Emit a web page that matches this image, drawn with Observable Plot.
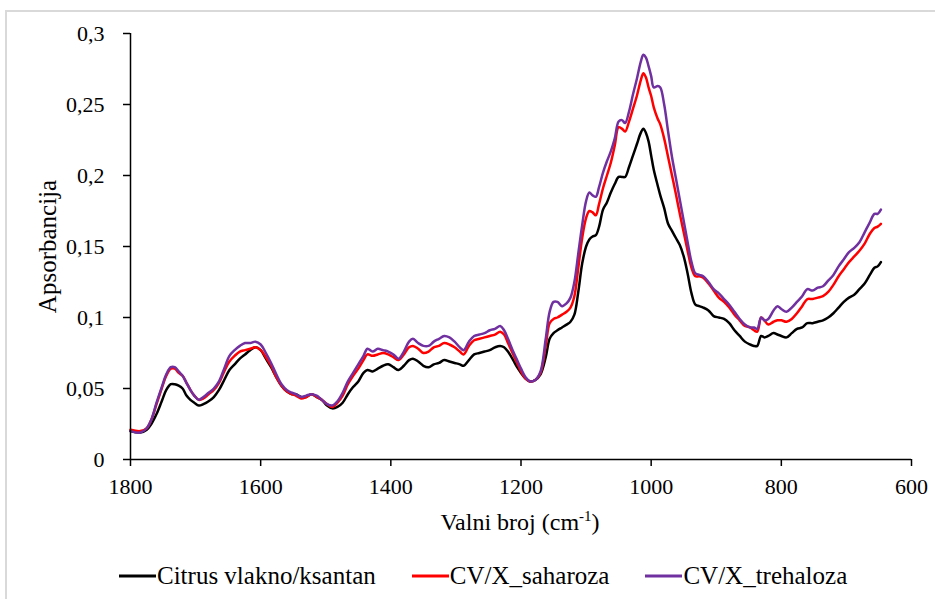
<!DOCTYPE html>
<html>
<head>
<meta charset="utf-8">
<script src="https://cdn.jsdelivr.net/npm/d3@7"></script>
<script src="https://cdn.jsdelivr.net/npm/@observablehq/plot@0.6"></script>
</head>
<body style="margin:0;padding:0;background:#fff">
<div id="wrap" style="position:relative;width:935px;height:599px;overflow:hidden;font-family:'Liberation Serif','Times New Roman',serif">
  <div id="frame" style="position:absolute;left:5px;top:10px;width:960px;height:620px;border-top:2px solid #d9d9d9;border-left:2px solid #d9d9d9;pointer-events:none"></div>
  <div id="chart"></div>
  <div id="legend" style="position:relative;height:62px;display:flex;align-items:center;gap:36px;padding-left:119px;font-size:25px;color:#000;font-family:'Liberation Serif','Times New Roman',serif"></div>
</div>
<script>
// FTIR spectra: wavenumber (cm-1) and absorbance of the three samples
const wavenumber = [1800,1785,1775,1768,1760,1752,1745,1738,1732,1726,1720,1714,1708,1702,1695,1688,1680,1672,1664,1656,1648,1640,1632,1624,1616,1608,1600,1592,1584,1576,1568,1560,1552,1546,1538,1530,1522,1514,1506,1498,1490,1482,1474,1466,1458,1450,1442,1436,1428,1420,1412,1404,1396,1388,1380,1372,1366,1358,1350,1342,1334,1326,1318,1310,1302,1294,1288,1280,1272,1264,1256,1248,1240,1232,1226,1220,1212,1206,1200,1193,1186,1178,1170,1162,1156,1150,1144,1137,1130,1124,1118,1112,1106,1100,1095,1090,1085,1080,1074,1068,1062,1056,1050,1045,1040,1034,1028,1022,1016,1012,1008,1004,1000,996,990,986,980,974,968,962,956,950,944,938,932,926,920,912,904,896,888,880,872,864,856,848,842,837,831,826,820,812,806,800,792,784,776,768,760,752,744,736,728,720,712,704,696,688,680,672,664,657,652,647];

const citrus = [0.020,0.019,0.021,0.025,0.032,0.041,0.049,0.053,0.053,0.052,0.050,0.045,0.042,0.040,0.038,0.039,0.041,0.044,0.049,0.056,0.063,0.067,0.071,0.074,0.077,0.079,0.077,0.071,0.065,0.058,0.052,0.048,0.046,0.046,0.044,0.044,0.046,0.044,0.042,0.038,0.036,0.037,0.040,0.046,0.051,0.055,0.061,0.063,0.062,0.064,0.066,0.067,0.065,0.063,0.066,0.070,0.071,0.069,0.066,0.065,0.067,0.068,0.070,0.069,0.068,0.067,0.066,0.070,0.074,0.075,0.076,0.077,0.079,0.080,0.079,0.076,0.070,0.065,0.061,0.057,0.055,0.056,0.060,0.072,0.085,0.089,0.091,0.093,0.095,0.097,0.102,0.118,0.138,0.150,0.155,0.157,0.158,0.164,0.176,0.181,0.188,0.194,0.199,0.199,0.199,0.206,0.214,0.222,0.230,0.233,0.230,0.224,0.214,0.204,0.193,0.186,0.177,0.166,0.161,0.156,0.151,0.143,0.131,0.117,0.109,0.108,0.107,0.105,0.101,0.100,0.099,0.096,0.091,0.087,0.083,0.081,0.080,0.080,0.087,0.086,0.087,0.089,0.088,0.087,0.086,0.089,0.092,0.093,0.096,0.096,0.097,0.098,0.100,0.103,0.107,0.111,0.114,0.116,0.120,0.124,0.130,0.135,0.136,0.139];

const saharoza = [0.021,0.020,0.022,0.028,0.039,0.050,0.059,0.064,0.064,0.061,0.059,0.054,0.049,0.045,0.042,0.043,0.046,0.049,0.054,0.062,0.069,0.073,0.076,0.077,0.078,0.079,0.077,0.072,0.066,0.058,0.052,0.048,0.046,0.045,0.043,0.044,0.046,0.044,0.042,0.039,0.037,0.040,0.045,0.053,0.059,0.064,0.070,0.074,0.073,0.074,0.075,0.074,0.072,0.070,0.074,0.079,0.080,0.078,0.075,0.076,0.079,0.080,0.082,0.081,0.079,0.076,0.074,0.080,0.084,0.085,0.086,0.087,0.088,0.090,0.088,0.082,0.074,0.068,0.062,0.057,0.055,0.056,0.061,0.080,0.096,0.099,0.100,0.102,0.104,0.107,0.115,0.135,0.156,0.170,0.175,0.174,0.172,0.180,0.191,0.200,0.209,0.221,0.234,0.233,0.231,0.238,0.247,0.256,0.267,0.272,0.269,0.262,0.256,0.248,0.240,0.236,0.226,0.213,0.200,0.187,0.173,0.160,0.147,0.135,0.129,0.129,0.128,0.124,0.119,0.114,0.111,0.107,0.102,0.098,0.094,0.093,0.091,0.090,0.100,0.098,0.095,0.097,0.098,0.098,0.097,0.099,0.103,0.108,0.113,0.113,0.114,0.115,0.118,0.123,0.129,0.134,0.139,0.143,0.147,0.152,0.159,0.163,0.164,0.166];

const trehaloza = [0.020,0.019,0.022,0.028,0.040,0.051,0.060,0.065,0.065,0.062,0.059,0.054,0.049,0.045,0.042,0.044,0.047,0.050,0.055,0.064,0.073,0.077,0.080,0.082,0.082,0.083,0.081,0.075,0.068,0.060,0.053,0.049,0.047,0.046,0.044,0.045,0.046,0.045,0.042,0.039,0.038,0.041,0.047,0.055,0.061,0.067,0.073,0.078,0.076,0.078,0.077,0.076,0.074,0.071,0.076,0.083,0.085,0.082,0.080,0.080,0.083,0.085,0.087,0.086,0.083,0.079,0.077,0.083,0.087,0.088,0.089,0.091,0.092,0.094,0.091,0.085,0.076,0.070,0.064,0.058,0.055,0.056,0.062,0.085,0.104,0.111,0.111,0.108,0.110,0.114,0.125,0.145,0.165,0.182,0.188,0.186,0.185,0.192,0.202,0.210,0.217,0.226,0.238,0.239,0.237,0.245,0.257,0.268,0.280,0.285,0.283,0.277,0.270,0.262,0.263,0.262,0.250,0.231,0.213,0.198,0.183,0.168,0.153,0.139,0.131,0.130,0.129,0.125,0.120,0.117,0.113,0.109,0.104,0.099,0.095,0.093,0.093,0.092,0.100,0.098,0.099,0.105,0.108,0.106,0.104,0.107,0.111,0.115,0.120,0.119,0.121,0.122,0.126,0.130,0.136,0.141,0.146,0.149,0.153,0.160,0.167,0.173,0.173,0.176];

const seriesNames = ["Citrus vlakno/ksantan", "CV/X_saharoza", "CV/X_trehaloza"];
const seriesColors = ["#000000", "#ff0000", "#7030a0"];
const xTicks = [1800, 1600, 1400, 1200, 1000, 800, 600];
const yTicks = [0, 0.05, 0.1, 0.15, 0.2, 0.25, 0.3];
const yTickLabels = ["0", "0,05", "0,1", "0,15", "0,2", "0,25", "0,3"];
const yTitle = "Apsorbancija";
const xTitle = "Valni broj (cm";
const xTitleSup = "-1";
const serifStack = "'Liberation Serif', 'Times New Roman', serif";

const seriesValues = [citrus, saharoza, trehaloza];
const rows = seriesNames.flatMap((name, s) =>
  wavenumber.map((w, i) => ({ series: name, wavenumber: w, absorbance: seriesValues[s][i] }))
);

const chart = Plot.plot({
  width: 935,
  height: 545,
  marginLeft: 130,
  marginRight: 24,
  marginTop: 33,
  marginBottom: 86,
  style: { fontSize: "22px", color: "#000", background: "transparent", overflow: "visible" },
  x: { domain: [1800, 600], label: null },
  y: { domain: [0, 0.3], label: null },
  color: { domain: seriesNames, range: seriesColors },
  marks: [
    Plot.lineY(rows, { x: "wavenumber", y: "absorbance", z: "series", stroke: "series", strokeWidth: 2.5, curve: "catmull-rom" }),
    Plot.ruleY([0], { stroke: "#000", strokeWidth: 1.5 }),
    Plot.ruleX([1800], { stroke: "#000", strokeWidth: 1.5 }),
    Plot.axisX({ ticks: xTicks, tickFormat: d => String(d), tickSize: 7, tickPadding: 12, strokeWidth: 1.5, label: null }),
    Plot.axisY({ ticks: yTicks, tickFormat: (d, i) => yTickLabels[i], tickSize: 7, tickPadding: 19, strokeWidth: 1.5, label: null }),
    Plot.text([yTitle], { frameAnchor: "left", dx: -83, rotate: -90, textAnchor: "middle", fontSize: 25 })
  ]
});

document.getElementById("chart").appendChild(chart);

// x-axis title with superscript exponent
const xt = d3.select(chart).append("text")
  .attr("x", 520).attr("y", 530)
  .attr("text-anchor", "middle")
  .attr("fill", "#000")
  .style("font-size", "24px");
xt.append("tspan").text(xTitle);
xt.append("tspan").attr("dy", -9).style("font-size", "15px").text(xTitleSup);
xt.append("tspan").attr("dy", 9).text(")");

// serif face on every text of the chart
chart.setAttribute("font-family", serifStack);
chart.style.fontFamily = serifStack;
d3.select(chart).selectAll("text, g").attr("font-family", serifStack).style("font-family", serifStack);

// legend below the chart
const legend = d3.select("#legend");
seriesNames.forEach((name, i) => {
  const item = legend.append("div").style("display", "flex").style("align-items", "center");
  const sw = item.append("svg").attr("width", 37).attr("height", 10).style("margin-right", "1px");
  sw.append("line").attr("x1", 0).attr("x2", 37).attr("y1", 5).attr("y2", 5)
    .attr("stroke", seriesColors[i]).attr("stroke-width", 3);
  item.append("span").style("font-family", serifStack).text(name);
});
</script>
</body>
</html>
